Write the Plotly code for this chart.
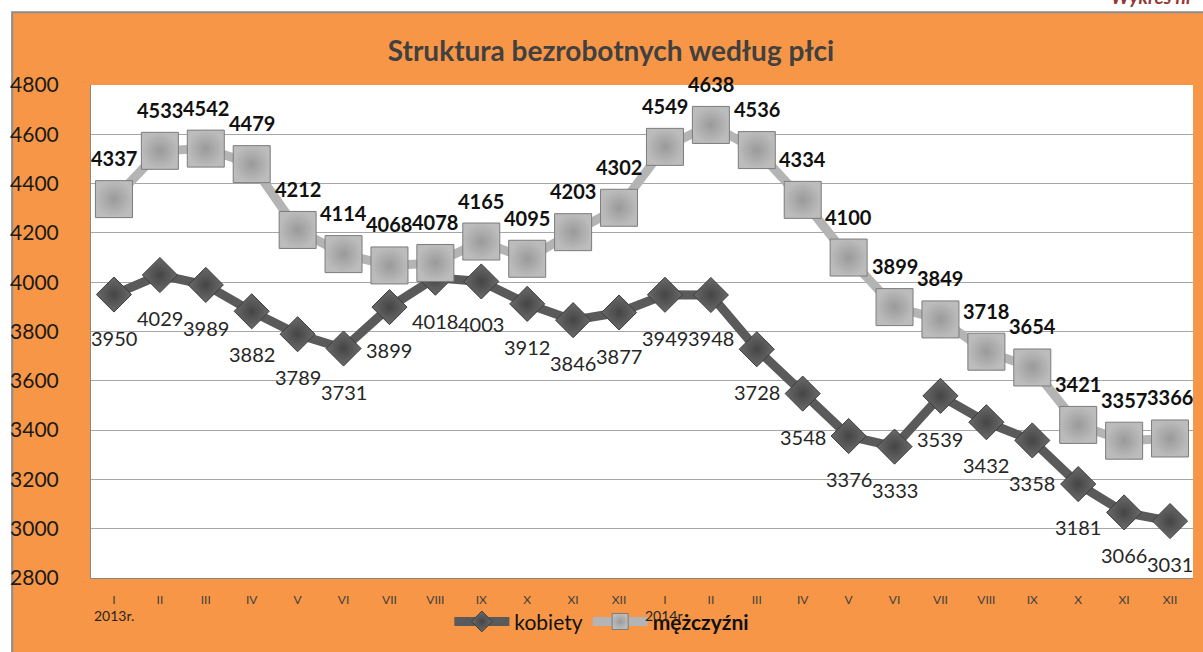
import plotly.graph_objects as go

# ---- data ----
months = ["I", "II", "III", "IV", "V", "VI", "VII", "VIII", "IX", "X", "XI", "XII"]
tick_labels = months + months
years = ["2013r.", "2014r."]
kobiety = [3950, 4029, 3989, 3882, 3789, 3731, 3899, 4018, 4003, 3912, 3846, 3877,
           3949, 3948, 3728, 3548, 3376, 3333, 3539, 3432, 3358, 3181, 3066, 3031]
mezczyzni = [4337, 4533, 4542, 4479, 4212, 4114, 4068, 4078, 4165, 4095, 4203, 4302,
             4549, 4638, 4536, 4334, 4100, 3899, 3849, 3718, 3654, 3421, 3357, 3366]
title_text = "Struktura bezrobotnych według płci"

x = list(range(len(tick_labels)))
FONT = "Lato"

W, H = 1203, 652
ML, MR, MT, MB = 89, 10, 85, 72
PW = W - ML - MR
PH = H - MT - MB


def px_x(p):
    return (p - ML) / PW


def px_y(p):
    return (H - MB - p) / PH


fig = go.Figure()

fig.add_trace(go.Scatter(
    x=x, y=kobiety, name="kobiety", mode="lines+markers",
    line=dict(color="#5a5a5a", width=9),
    marker=dict(symbol="diamond", size=27, color="#6a6a6a",
                line=dict(color="#3c3c3c", width=1),
                gradient=dict(type="radial", color="#454545")),
    cliponaxis=False,
))
fig.add_trace(go.Scatter(
    x=x, y=mezczyzni, name="<b>mężczyźni</b>", mode="lines+markers",
    line=dict(color="#b4b4b4", width=9),
    marker=dict(symbol="square", size=37, color="#bcbcbc",
                line=dict(color="#7c7c7c", width=1),
                gradient=dict(type="radial", color="#9a9a9a")),
    cliponaxis=False,
))

annotations = []
for i, v in zip(x, kobiety):
    annotations.append(dict(x=i, y=v, xref="x", yref="y", text=str(v), showarrow=False,
                            yshift=-43, font=dict(family=FONT, size=20, color="#262626")))
for i, v in zip(x, mezczyzni):
    annotations.append(dict(x=i, y=v, xref="x", yref="y", text=str(v), showarrow=False,
                            yshift=41, font=dict(family=FONT, size=20, color="#111111",
                                                 weight="bold")))
for k, yr in enumerate(years):
    annotations.append(dict(x=k * len(months), y=px_y(618), xref="x", yref="paper",
                            text=yr, showarrow=False, yanchor="middle",
                            font=dict(family=FONT, size=14, color="#262626")))
annotations.append(dict(x=px_x(1196), y=px_y(10), xref="paper", yref="paper",
                        text="<b><i>Wykres nr</i></b>", showarrow=False,
                        xanchor="right", yanchor="bottom",
                        font=dict(family=FONT, size=19, color="#953735")))

shapes = [
    dict(type="rect", xref="paper", yref="paper",
         x0=px_x(10), x1=px_x(1210), y0=px_y(670), y1=px_y(12),
         fillcolor="#F79646", line=dict(color="#8c8c8c", width=2), layer="below"),
    dict(type="rect", xref="paper", yref="paper", x0=0, x1=1, y0=0, y1=1,
         fillcolor="white", line=dict(width=0), layer="below"),
]

fig.update_layout(
    width=W, height=H, autosize=False,
    margin=dict(l=ML, r=MR, t=MT, b=MB, pad=0),
    paper_bgcolor="white", plot_bgcolor="rgba(0,0,0,0)",
    font=dict(family=FONT),
    title=dict(text=title_text, x=611 / W, xref="container", xanchor="center",
               y=1 - 51 / H, yref="container", yanchor="middle",
               font=dict(family=FONT, size=28, color="#404040", weight="bold")),
    showlegend=True,
    legend=dict(orientation="h", x=px_x(448), xanchor="left",
                y=px_y(624), yanchor="middle", bgcolor="rgba(0,0,0,0)",
                font=dict(family=FONT, size=21, color="#111111"),
                itemwidth=55),
    shapes=shapes,
    annotations=annotations,
)

fig.update_xaxes(range=[-0.5, len(x) - 0.5], tickmode="array", tickvals=x,
                 ticktext=tick_labels, showgrid=False, zeroline=False,
                 showline=True, linecolor="#868686", linewidth=1,
                 ticks="", ticklabelstandoff=11,
                 tickfont=dict(family=FONT, size=12, color="#404040"))
fig.update_yaxes(range=[2800, 4800], dtick=200, tick0=2800, showgrid=True,
                 gridcolor="#a6a6a6", gridwidth=1, zeroline=False,
                 showline=True, linecolor="#868686", linewidth=1,
                 ticks="", ticklabelstandoff=27,
                 tickfont=dict(family=FONT, size=21, color="#1a1a1a"))

fig.write_html("out.html", config={"displayModeBar": False},
               post_script="document.body.style.margin='0';document.body.style.overflow='hidden';")
